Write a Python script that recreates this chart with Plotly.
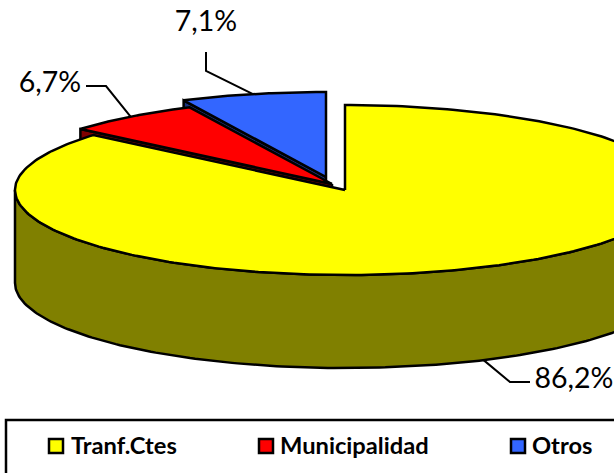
import numpy as np
import plotly.graph_objects as go

categories = ["Tranf.Ctes", "Municipalidad", "Otros"]
shares = [86.2, 6.7, 7.1]
labels = ["86,2%", "6,7%", "7,1%"]
top_colors = ["#FFFF00", "#FF0000", "#3366FF"]
wall_colors = ["#808000", "#800000", "#1A3380"]

CX, CY, RX, RY, DEPTH = 345, 190, 330, 85, 93
offsets = [(0, 0), (-13, -6), (-19, -13)]
label_pos = [(574, 381), (50, 85), (206, 24)]
leader_elbow = [[(510, 382), (530, 382)], [(106, 86), (86, 86)], [(206, 71), (206, 52)]]
legend_x = [56, 266, 518]
legend_text_x = [71, 280, 532]
LEGEND_Y = 446
LEGEND_TEXT_Y = 448
BLACK = "#000000"
LW = 2.5

edges = np.concatenate([[0], np.cumsum(shares)]) * 3.6


def point(deg, dx=0, dy=0):
    t = np.radians(deg)
    return CX + dx + RX * np.sin(t), CY + dy - RY * np.cos(t)


def poly(fig, xs, ys, color):
    fig.add_trace(go.Scatter(x=xs, y=ys, mode="lines", fill="toself", fillcolor=color,
                             line=dict(color=BLACK, width=LW), hoverinfo="skip", showlegend=False))


fig = go.Figure()

# exploded slices, back to front: side face, then top
for i in (2, 1):
    dx, dy = offsets[i]
    a0, a1 = edges[i], edges[i + 1]
    ox, oy = point(a0, dx, dy)
    ax, ay = CX + dx, CY + dy
    poly(fig, [ax, ox, ox, ax, ax], [ay, oy, oy + DEPTH, ay + DEPTH, ay], wall_colors[i])
    ang = np.linspace(a0, a1, 60)
    px, py = point(ang, dx, dy)
    poly(fig, np.r_[ax, px, ax], np.r_[ay, py, ay], top_colors[i])

# main slice: front wall, then top
ang = np.linspace(90, 270, 181)
px, py = point(ang)
poly(fig, np.r_[px, px[::-1], px[0]], np.r_[py, py[::-1] + DEPTH, py[0]], wall_colors[0])
ang = np.linspace(edges[0], edges[1], 311)
px, py = point(ang)
poly(fig, np.r_[CX, px, CX], np.r_[CY, py, CY], top_colors[0])

# leader lines, anchored on each slice's middle angle
for i in range(3):
    dx, dy = offsets[i]
    x0, y0 = point((edges[i] + edges[i + 1]) / 2, dx, dy)
    if i == 0:
        y0 += DEPTH
    pts = [(x0, y0)] + leader_elbow[i]
    fig.add_trace(go.Scatter(x=[p[0] for p in pts], y=[p[1] for p in pts], mode="lines",
                             line=dict(color=BLACK, width=2), hoverinfo="skip", showlegend=False))

# percentage labels
fig.add_trace(go.Scatter(x=[p[0] for p in label_pos], y=[p[1] for p in label_pos], mode="text",
                         text=labels, textposition="middle center",
                         textfont=dict(family="Lato", size=28.5, color=BLACK),
                         hoverinfo="skip", showlegend=False))

# legend swatches and names
fig.add_trace(go.Scatter(x=legend_x, y=[LEGEND_Y] * 3, mode="markers",
                         marker=dict(symbol="square", size=14, color=top_colors,
                                     line=dict(color=BLACK, width=2.5)),
                         hoverinfo="skip", showlegend=False))
fig.add_trace(go.Scatter(x=legend_text_x, y=[LEGEND_TEXT_Y] * 3, mode="text",
                         text=categories, textposition="middle right",
                         textfont=dict(family="Lato", size=23.7, color=BLACK, weight="bold"),
                         hoverinfo="skip", showlegend=False))

fig.update_layout(
    width=614, height=473, margin=dict(l=0, r=0, t=0, b=0),
    paper_bgcolor="white", plot_bgcolor="white", showlegend=False,
    xaxis=dict(range=[0, 614], visible=False, fixedrange=True),
    yaxis=dict(range=[473, 0], visible=False, fixedrange=True),
    shapes=[dict(type="rect", x0=6, y0=420, x1=640, y1=500, line=dict(color=BLACK, width=2.5), layer="below")],
)
fig.write_html("out.html", config={"displayModeBar": False},
               post_script="document.body.style.margin='0';document.documentElement.style.overflow='hidden';")
